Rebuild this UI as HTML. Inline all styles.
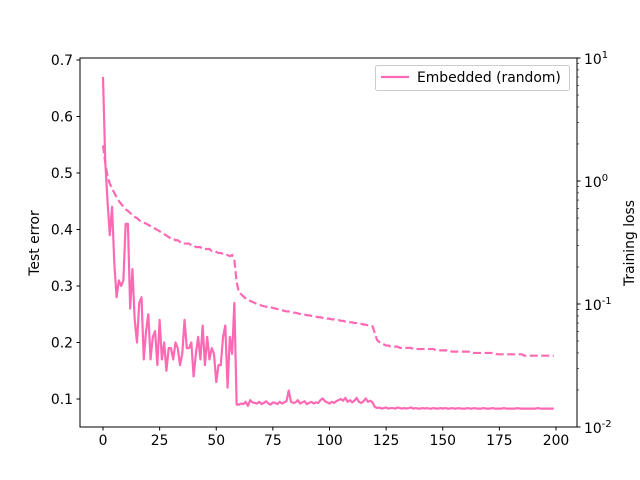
<!DOCTYPE html>
<html><head><meta charset="utf-8"><style>
body{margin:0;background:#fff;}
svg text{font-family:"DejaVu Sans","Liberation Sans",sans-serif;font-size:13.9px;fill:#000;}
</style></head><body>
<svg id="chart" width="640" height="480" viewBox="0 0 640 480" style="position:absolute;left:0;top:0">
<rect width="640" height="480" fill="#fff"/>
<g id="marks"></g>
<g id="axes"></g>
</svg>
<script>
const testError=[0.67,0.52,0.45,0.39,0.44,0.34,0.28,0.31,0.30,0.31,0.41,0.41,0.26,0.33,0.24,0.20,0.27,0.28,0.17,0.22,0.25,0.17,0.21,0.22,0.16,0.24,0.17,0.20,0.15,0.19,0.19,0.17,0.20,0.19,0.16,0.18,0.24,0.19,0.19,0.20,0.14,0.18,0.21,0.17,0.23,0.16,0.21,0.17,0.19,0.18,0.13,0.16,0.16,0.21,0.23,0.12,0.21,0.18,0.27,0.09,
0.090,0.092,0.091,0.095,0.088,0.098,0.094,0.093,0.092,0.095,0.091,0.093,0.096,0.092,0.090,0.094,0.093,0.091,0.095,0.092,0.094,0.096,0.115,0.095,0.093,0.094,0.098,0.092,0.094,0.096,0.091,0.093,0.095,0.092,0.094,0.093,0.098,0.101,0.096,0.094,0.092,0.095,0.093,0.096,0.098,0.100,0.097,0.102,0.095,0.098,0.094,0.097,0.102,0.095,0.093,0.096,0.101,0.095,0.097,0.094,
0.086,0.084,0.085,0.083,0.084,0.085,0.083,0.084,0.084,0.083,0.085,0.084,0.083,0.084,0.083,0.084,0.085,0.083,0.084,0.083,0.083,0.084,0.083,0.084,0.083,0.083,0.084,0.083,0.083,0.084,0.083,0.084,0.083,0.083,0.084,0.083,0.083,0.084,0.083,0.083,
0.083,0.084,0.083,0.083,0.084,0.083,0.083,0.083,0.084,0.083,0.083,0.083,0.084,0.083,0.083,0.083,0.083,0.084,0.083,0.083,0.083,0.083,0.083,0.084,0.083,0.083,0.083,0.083,0.083,0.083,0.083,0.083,0.084,0.083,0.083,0.083,0.083,0.083,0.083,0.083];
const trainLoss=[
1.95,1.4,1.1,0.95,0.87,0.80,0.74,0.69,0.65,0.62,0.59,0.57,0.55,0.53,0.51,0.50,0.48,0.47,0.46,0.45,
0.44,0.43,0.42,0.41,0.40,0.39,0.38,0.37,0.36,0.35,0.34,0.34,0.33,0.33,0.32,0.32,0.31,0.31,0.31,0.30,
0.30,0.29,0.29,0.29,0.28,0.28,0.28,0.28,0.27,0.27,0.265,0.26,0.26,0.255,0.25,0.25,0.245,0.25,0.23,0.15,
0.125,0.12,0.115,0.111,0.108,0.106,0.104,0.102,0.100,0.099,0.097,0.096,0.095,0.094,0.094,0.093,0.092,0.091,0.090,0.089,
0.088,0.087,0.087,0.086,0.085,0.085,0.084,0.083,0.083,0.082,0.081,0.081,0.080,0.080,0.079,0.078,0.078,0.077,0.077,0.076,
0.076,0.075,0.075,0.074,0.074,0.073,0.073,0.072,0.072,0.071,0.071,0.070,0.070,0.069,0.069,0.068,0.068,0.067,0.067,0.066,
0.058,0.051,0.049,0.048,0.047,0.046,0.046,0.045,0.045,0.045,0.045,0.044,0.044,0.044,0.044,0.044,0.044,0.043,0.043,0.043,
0.043,0.043,0.043,0.043,0.043,0.043,0.043,0.042,0.042,0.042,0.042,0.042,0.042,0.042,0.041,0.041,0.041,0.041,0.041,0.041,
0.041,0.041,0.041,0.040,0.040,0.040,0.040,0.040,0.040,0.040,0.040,0.040,0.040,0.040,0.039,0.039,0.039,0.039,0.039,0.039,
0.039,0.039,0.039,0.039,0.039,0.039,0.038,0.038,0.038,0.038,0.038,0.038,0.038,0.038,0.038,0.038,0.038,0.038,0.038,0.038];
const xTicks=[0,25,50,75,100,125,150,175,200];
const yTicks=[0.1,0.2,0.3,0.4,0.5,0.6,0.7];
const rTicks=[-2,-1,0,1];
const L=80,R=577,T=58,B=427;
const xs=e=>103+e*(453/200);
const ys=v=>399-(v-0.1)*565;
const yr=v=>58+(1-Math.log10(v))*123;
const NS="http://www.w3.org/2000/svg";
const marks=document.getElementById('marks'),axes=document.getElementById('axes');
function mk(tag,attrs,parent){const e=document.createElementNS(NS,tag);for(const k in attrs)e.setAttribute(k,attrs[k]);parent.appendChild(e);return e;}
let d1=testError.map((v,i)=>(i?'L':'M')+xs(i).toFixed(2)+' '+ys(v).toFixed(2)).join('');
const p1=mk('path',{d:d1,fill:'none',stroke:'#ff69b4','stroke-width':2.2,'stroke-linejoin':'round'},marks);


let d2=trainLoss.map((v,i)=>(i?'L':'M')+xs(i).toFixed(2)+' '+yr(v).toFixed(2)).join('');
const p2=mk('path',{d:d2,fill:'none',stroke:'#ff69b4','stroke-width':2.2,'stroke-dasharray':'8 3.5'},marks);


const frame=mk('rect',{x:L,y:T,width:R-L,height:B-T,fill:'none',stroke:'#000','stroke-width':1},axes);


xTicks.forEach(t=>{const x=xs(t);mk('line',{x1:x,x2:x,y1:B,y2:B+3.5,stroke:'#000'},axes);
const tx=mk('text',{x:x,y:B+18,'text-anchor':'middle'},axes);tx.textContent=t;

});
yTicks.forEach(t=>{const y=ys(t);mk('line',{x1:L-3.5,x2:L,y1:y,y2:y,stroke:'#000'},axes);
const tx=mk('text',{x:L-7,y:y+5,'text-anchor':'end'},axes);tx.textContent=t.toFixed(1);

});
rTicks.forEach(p=>{const y=yr(Math.pow(10,p));mk('line',{x1:R,x2:R+3.5,y1:y,y2:y,stroke:'#000'},axes);
const tx=mk('text',{x:R+7,y:y+6},axes);tx.textContent='10';
const sup=mk('tspan',{dy:-6,'font-size':'10px'},tx);sup.textContent=p;


if(p<1)for(let m=2;m<10;m++){const yy=yr(m*Math.pow(10,p));mk('line',{x1:R,x2:R+2,y1:yy,y2:yy,stroke:'#000','stroke-width':0.6},axes);}});
</script>
<svg style="position:absolute;left:0;top:0" width="640" height="480">
<text x="39" y="243" transform="rotate(-90 39 243)" text-anchor="middle">Test error</text>
<text x="634" y="243" transform="rotate(-90 634 243)" text-anchor="middle">Training loss</text>
<g>
<rect x="375.5" y="65.5" width="194" height="25" rx="2" fill="#fff" fill-opacity="0.8" stroke="#ccc"/>
<line x1="381" x2="409" y1="77" y2="77" stroke="#ff69b4" stroke-width="2.2"/>
<text x="417" y="82">Embedded (random)</text>
</g>
</svg>
</body></html>
